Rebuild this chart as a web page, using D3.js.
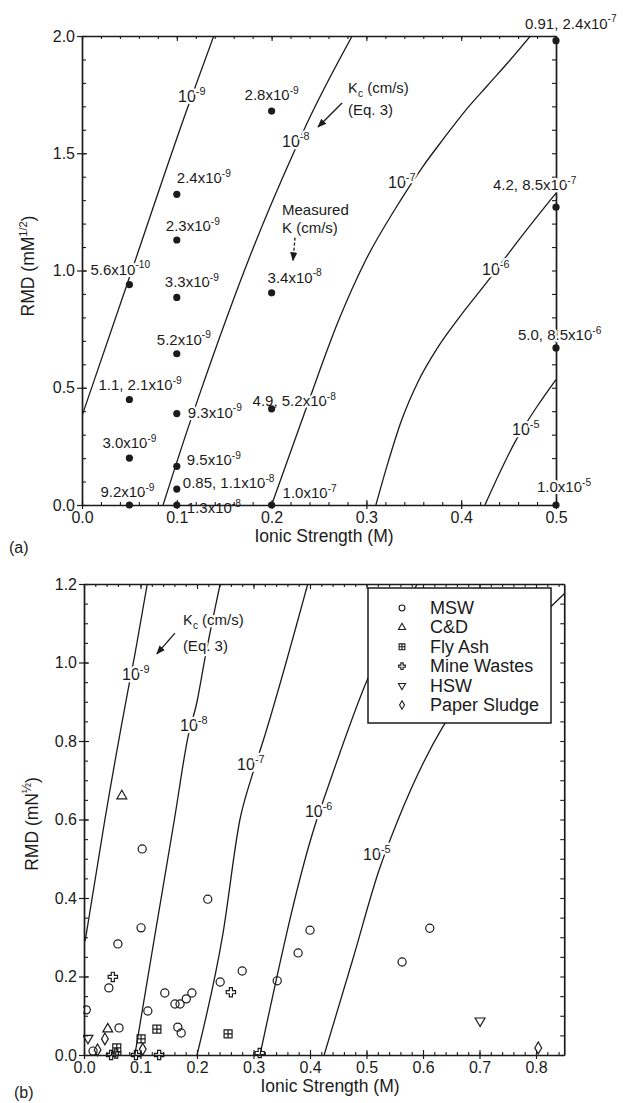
<!DOCTYPE html>
<html>
<head>
<meta charset="utf-8">
<script src="https://cdn.jsdelivr.net/npm/d3@7"></script>
<style>
  body { margin: 0; background: #fff; }
  text { font-family: "Liberation Sans", Arial, Helvetica, sans-serif; fill: #1b1b1b; }
</style>
</head>
<body>
<svg id="chart" width="623" height="1103"></svg>
<script>
// ---------------- Panel (a): measured K versus ionic strength and RMD ----------------
const measuredI   = [0.05, 0.05, 0.05, 0.05, 0.1, 0.1, 0.1, 0.1, 0.1, 0.1, 0.1, 0.1, 0.2, 0.2, 0.2, 0.2, 0.5, 0.5, 0.5, 0.5];
const measuredRMD = [0.94, 0.45, 0.20, 0.0, 1.325, 1.13, 0.885, 0.645, 0.39, 0.165, 0.068, 0.0, 1.68, 0.905, 0.41, 0.0, 1.98, 1.27, 0.67, 0.0];
const measuredK   = ["5.6x10^-10", "1.1, 2.1x10^-9", "3.0x10^-9", "9.2x10^-9",
                     "2.4x10^-9", "2.3x10^-9", "3.3x10^-9", "5.2x10^-9", "9.3x10^-9", "9.5x10^-9", "0.85, 1.1x10^-8", "1.3x10^-8",
                     "2.8x10^-9", "3.4x10^-8", "4.9, 5.2x10^-8", "1.0x10^-7",
                     "0.91, 2.4x10^-7", "4.2, 8.5x10^-7", "5.0, 8.5x10^-6", "1.0x10^-5"];

// Kc contours from Eq. 3, panel (a): [ionic strength, RMD]
const kcA9 = [[0, 0.38], [0.05, 0.97], [0.111, 1.69], [0.139, 2.0]];
const kcA8 = [[0.0855, 0], [0.112, 0.33], [0.123, 0.46], [0.18, 1.09], [0.223, 1.50], [0.24, 1.65], [0.285, 2.0]];
const kcA7 = [[0.2, 0], [0.238, 0.43], [0.27, 0.78], [0.30, 1.05], [0.33, 1.26], [0.359, 1.44], [0.381, 1.56], [0.404, 1.68], [0.428, 1.79], [0.45, 1.89], [0.473, 2.0]];
const kcA6 = [[0.31, 0], [0.322, 0.17], [0.337, 0.36], [0.355, 0.53], [0.375, 0.67], [0.398, 0.8], [0.43, 0.965], [0.455, 1.1], [0.494, 1.3], [0.5, 1.33]];
const kcA5 = [[0.425, 0], [0.457, 0.27], [0.48, 0.42], [0.5, 0.535]];
const kcNames = ["10^-9", "10^-8", "10^-7", "10^-6", "10^-5"];

const tickA_x = [0, 0.1, 0.2, 0.3, 0.4, 0.5];
const tickA_y = [0, 0.5, 1.0, 1.5, 2.0];

// ---------------- Panel (b): waste leachates ----------------
const mswI    = [0.103, 0.219, 0.101, 0.060, 0.044, 0.062, 0.113, 0.143, 0.161, 0.170, 0.181, 0.191, 0.166, 0.172, 0.241, 0.280, 0.342, 0.379, 0.400, 0.612, 0.563, 0.004, 0.016];
const mswRMD  = [0.525, 0.397, 0.324, 0.283, 0.171, 0.069, 0.112, 0.158, 0.130, 0.130, 0.143, 0.158, 0.071, 0.056, 0.186, 0.214, 0.189, 0.260, 0.318, 0.323, 0.237, 0.115, 0.010];
const cdI     = [0.067, 0.042];
const cdRMD   = [0.66, 0.066];
const flyI    = [0.129, 0.101, 0.255, 0.058];
const flyRMD  = [0.066, 0.041, 0.054, 0.018];
const mineI   = [0.051, 0.260, 0.048, 0.057, 0.092, 0.133, 0.311];
const mineRMD = [0.199, 0.160, 0.0, 0.004, 0.0, 0.0, 0.005];
const hswI    = [0.701, 0.007];
const hswRMD  = [0.087, 0.043];
const paperI  = [0.037, 0.104, 0.024, 0.804];
const paperRMD= [0.041, 0.015, 0.013, 0.018];
const wasteNames = ["MSW", "C&D", "Fly Ash", "Mine Wastes", "HSW", "Paper Sludge"];

const kcB9 = [[0.002, 0.29], [0.037, 0.60], [0.078, 0.93], [0.090, 1.02], [0.112, 1.2]];
const kcB8 = [[0.09, 0], [0.126, 0.31], [0.16, 0.6], [0.184, 0.81], [0.2, 0.9], [0.214, 1.01], [0.241, 1.2]];
const kcB7 = [[0.2, 0], [0.246, 0.31], [0.276, 0.6], [0.297, 0.71], [0.317, 0.8], [0.396, 1.2]];
const kcB6 = [[0.3115, 0], [0.409, 0.586], [0.43, 0.675], [0.501, 0.955], [0.59, 1.2]];
const kcB5 = [[0.425, 0], [0.475, 0.24], [0.522, 0.47], [0.556, 0.6], [0.635, 0.836], [0.73, 1.0], [0.85, 1.175]];

const tickB_x = [0, 0.1, 0.2, 0.3, 0.4, 0.5, 0.6, 0.7, 0.8];
const tickB_y = [0, 0.2, 0.4, 0.6, 0.8, 1.0, 1.2];

// ---------------- layout ----------------
const ink = "#1b1b1b";
const svg = d3.select("#chart");

const xA = d3.scaleLinear().domain([0, 0.5]).range([82, 556]);
const yA = d3.scaleLinear().domain([0, 2]).range([505, 36]);
const xB = d3.scaleLinear().domain([0, 0.85]).range([84, 564.25]);
const yB = d3.scaleLinear().domain([0, 1.2]).range([1055, 584]);

// label placement (pixel offsets from each measured point)
const measuredLabelOffset = [[-39, -10], [-31, -9], [-27, -10], [-29, -8],
  [0, -11], [-11, -9], [-12, -10], [-20, -9], [11, 4], [10, -1], [6, -1], [10, 8],
  [-27, -11], [-4, -10], [-19, -3], [11, -7],
  [-31, -12], [-63, -17], [-38, -8], [-19, -13]];
const plainLabels = new Set([11]);
// curve label anchors in data units
const kcLabelAtA = [[0.1013, 1.719], [0.211, 1.527], [0.3228, 1.352], [0.422, 0.981], [0.4536, 0.2985]];
const kcLabelAtB = [[0.0673, 0.955], [0.170, 0.825], [0.271, 0.726], [0.391, 0.606], [0.494, 0.497]];

function rich(g, x, y, parts, size, halo) {
  const t = g.append("text").attr("x", x).attr("y", y).attr("font-size", size);
  parts.forEach(p => {
    const s = t.append("tspan").text(p.t);
    if (p.dy) s.attr("dy", p.dy);
    if (p.size) s.attr("font-size", p.size);
  });
  if (halo) t.attr("stroke", "#fff").attr("stroke-width", 4.5).attr("stroke-linejoin", "round").attr("paint-order", "stroke");
  return t;
}
function powerText(g, x, y, str, size, halo) {
  const [base, sup] = str.split("^");
  const parts = [{ t: base }];
  if (sup) parts.push({ t: sup, dy: -size * 0.42, size: size * 0.68 });
  return rich(g, x, y, parts, size, halo);
}

function styleAxis(sel, width) {
  sel.select(".domain").attr("stroke", ink).attr("stroke-width", width || 1.7);
  sel.selectAll(".tick line").attr("stroke", ink).attr("stroke-width", 1.2);
  sel.selectAll(".tick text").attr("font-size", 16).attr("fill", ink)
     .style("font-family", "'Liberation Sans', Arial, sans-serif");
}
function minorTicks(g, axisFn, scale, values, size, tr) {
  const a = g.append("g").attr("transform", tr)
    .call(axisFn(scale).tickValues(values).tickSize(size).tickFormat(""));
  a.select(".domain").remove();
  a.selectAll(".tick line").attr("stroke", ink).attr("stroke-width", 1.1);
}
const steps = (a, b, s) => d3.range(Math.round((b - a) / s) + 1).map(i => +(a + i * s).toFixed(4));

function frame(g, x, y, xt, yt, xMinor, yMinor, yRightMinor) {
  const [x0, x1] = x.range(), [y0, y1] = y.range();
  // left
  styleAxis(g.append("g").attr("transform", `translate(${x0},0)`)
    .call(d3.axisLeft(y).tickValues(yt).tickFormat(d3.format(".1f")).tickSizeInner(5).tickSizeOuter(0).tickPadding(2)));
  minorTicks(g, d3.axisLeft, y, yMinor, -4, `translate(${x0},0)`);
  minorTicks(g, d3.axisLeft, y, yt, -5, `translate(${x0},0)`);
  // bottom
  styleAxis(g.append("g").attr("transform", `translate(0,${y0})`)
    .call(d3.axisBottom(x).tickValues(xt).tickFormat(d3.format(".1f")).tickSizeInner(4).tickSizeOuter(0).tickPadding(3)));
  minorTicks(g, d3.axisBottom, x, xMinor, -3, `translate(0,${y0})`);
  minorTicks(g, d3.axisBottom, x, xt, -5, `translate(0,${y0})`);
  // top
  const top = g.append("g").attr("transform", `translate(0,${y1})`)
    .call(d3.axisTop(x).tickValues([]).tickSizeOuter(0));
  styleAxis(top);
  minorTicks(g, d3.axisTop, x, xMinor, -3, `translate(0,${y1})`);
  minorTicks(g, d3.axisTop, x, xt, -5, `translate(0,${y1})`);
  // right
  const right = g.append("g").attr("transform", `translate(${x1},0)`)
    .call(d3.axisRight(y).tickValues([]).tickSizeOuter(0));
  styleAxis(right);
  minorTicks(g, d3.axisRight, y, yRightMinor, -4, `translate(${x1},0)`);
}

function drawCurves(g, x, y, curves, clipId) {
  const [x0, x1] = x.range(), [y0, y1] = y.range();
  svg.append("clipPath").attr("id", clipId).append("rect")
    .attr("x", x0).attr("y", y1).attr("width", x1 - x0).attr("height", y0 - y1);
  const line = d3.line().x(d => x(d[0])).y(d => y(d[1])).curve(d3.curveMonotoneX);
  g.append("g").attr("clip-path", `url(#${clipId})`)
    .selectAll("path").data(curves).join("path")
    .attr("d", line).attr("fill", "none").attr("stroke", ink).attr("stroke-width", 1.3);
}

svg.append("defs").append("marker")
  .attr("id", "head").attr("viewBox", "0 0 10 10").attr("refX", 9).attr("refY", 5)
  .attr("markerWidth", 9).attr("markerHeight", 9).attr("orient", "auto-start-reverse")
  .attr("markerUnits", "userSpaceOnUse")
  .append("path").attr("d", "M0,1L10,5L0,9z").attr("fill", ink);

function arrow(g, x, y, from, to, dashed) {
  g.append("line")
    .attr("x1", x(from[0])).attr("y1", y(from[1]))
    .attr("x2", x(to[0])).attr("y2", y(to[1]))
    .attr("stroke", ink).attr("stroke-width", 1.3)
    .attr("stroke-dasharray", dashed ? "3,2" : null)
    .attr("marker-end", "url(#head)");
}

// ================= panel (a) =================
const gA = svg.append("g");
frame(gA, xA, yA, tickA_x, tickA_y, steps(0, 0.5, 0.02), steps(0, 2, 0.1), steps(0, 2, 0.1));
drawCurves(gA, xA, yA, [kcA9, kcA8, kcA7, kcA6, kcA5], "clipA");

// curve labels
kcNames.forEach((n, i) => powerText(gA, xA(kcLabelAtA[i][0]), yA(kcLabelAtA[i][1]), n, 16, true));

// annotation text and arrows
rich(gA, xA(0.2806), yA(1.757), [{ t: "K" }, { t: "c", dy: 4, size: 10 }, { t: " (cm/s)", dy: -4 }], 15, true);
rich(gA, xA(0.2806), yA(1.663), [{ t: "(Eq. 3)" }], 15, true);
arrow(gA, xA, yA, [0.2743, 1.714], [0.249, 1.612], false);
rich(gA, xA(0.211), yA(1.237), [{ t: "Measured" }], 15, true);
rich(gA, xA(0.211), yA(1.16), [{ t: "K (cm/s)" }], 15, true);
arrow(gA, xA, yA, [0.2247, 1.14], [0.2226, 1.043], true);

// measured values
measuredK.forEach((k, i) => {
  const [dx, dy] = measuredLabelOffset[i];
  powerText(gA, xA(measuredI[i]) + dx, yA(measuredRMD[i]) + dy, k, 15, !plainLabels.has(i));
});
gA.append("g").selectAll("circle").data(measuredI).join("circle")
  .attr("cx", (d, i) => xA(d)).attr("cy", (d, i) => yA(measuredRMD[i]))
  .attr("r", 3.6).attr("fill", ink);

// axis titles
gA.append("text").attr("x", 324).attr("y", 542).attr("text-anchor", "middle").attr("font-size", 17.5).text("Ionic Strength (M)");
rich(gA, 0, 0, [{ t: "RMD (mM" }, { t: "1/2", dy: -7, size: 11 }, { t: ")", dy: 7 }], 17.5, false)
  .attr("transform", "translate(34,266) rotate(-90)").attr("text-anchor", "middle");
gA.append("text").attr("x", 9).attr("y", 553).attr("font-size", 16).text("(a)");

// ================= panel (b) =================
const gB = svg.append("g");
frame(gB, xB, yB, tickB_x, tickB_y, steps(0, 0.84, 0.02), steps(0, 1.2, 0.05), steps(0, 1.2, 0.05));
drawCurves(gB, xB, yB, [kcB9, kcB8, kcB7, kcB6, kcB5], "clipB");

kcNames.forEach((n, i) => powerText(gB, xB(kcLabelAtB[i][0]), yB(kcLabelAtB[i][1]), n, 16, true));
rich(gB, xB(0.175), yB(1.096), [{ t: "K" }, { t: "c", dy: 4, size: 10 }, { t: " (cm/s)", dy: -4 }], 15, true);
rich(gB, xB(0.175), yB(1.029), [{ t: "(Eq. 3)" }], 15, true);
arrow(gB, xB, yB, [0.161, 1.075], [0.129, 1.022], false);

// marker shapes
const sym = d3.symbol();
const shapes = [
  s => sym.type(d3.symbolCircle).size(52 * s * s)(),
  s => sym.type(d3.symbolTriangle).size(42 * s * s)(),
  s => { const h = 4 * s; return `M${-h},${-h}H${h}V${h}H${-h}ZM${-h},0H${h}M0,${-h}V${h}`; },
  s => sym.type(d3.symbolCross).size(48 * s * s)(),
  s => sym.type(d3.symbolTriangle).size(42 * s * s)(),
  s => sym.type(d3.symbolDiamond).size(40 * s * s)()
];
const rotations = [0, 0, 0, 0, 180, 0];
const groups = [[mswI, mswRMD], [cdI, cdRMD], [flyI, flyRMD], [mineI, mineRMD], [hswI, hswRMD], [paperI, paperRMD]];

const marks = gB.append("g").attr("clip-path", "url(#clipBm)");
svg.append("clipPath").attr("id", "clipBm").append("rect")
  .attr("x", xB(0) - 1).attr("y", yB(1.2)).attr("width", xB(0.85) - xB(0) + 6).attr("height", yB(0) - yB(1.2) + 6);
groups.forEach(([xs, ys], k) => {
  marks.append("g").selectAll("path").data(xs).join("path")
    .attr("d", shapes[k](1))
    .attr("transform", (d, i) => `translate(${xB(d)},${yB(ys[i])}) rotate(${rotations[k]})`)
    .attr("fill", "none").attr("stroke", ink).attr("stroke-width", 1.2);
});

// legend
const lg = gB.append("g");
lg.append("rect").attr("x", 368).attr("y", 588).attr("width", 183).attr("height", 135)
  .attr("fill", "#fff").attr("stroke", ink).attr("stroke-width", 1.5);
wasteNames.forEach((n, k) => {
  const by = 614 + k * 19.4;
  lg.append("path").attr("d", shapes[k](0.72))
    .attr("transform", `translate(402,${by - 6}) rotate(${rotations[k]})`)
    .attr("fill", "none").attr("stroke", ink).attr("stroke-width", 1.1);
  lg.append("text").attr("x", 430).attr("y", by).attr("font-size", 18).text(n);
});

gB.append("text").attr("x", 330).attr("y", 1092).attr("text-anchor", "middle").attr("font-size", 17.5).text("Ionic Strength (M)");
rich(gB, 0, 0, [{ t: "RMD (mN" }, { t: "½", dy: -7, size: 12 }, { t: ")", dy: 7 }], 17.5, false)
  .attr("transform", "translate(38,824) rotate(-90)").attr("text-anchor", "middle");
gB.append("text").attr("x", 14).attr("y", 1098).attr("font-size", 16).text("(b)");
</script>
</body>
</html>
